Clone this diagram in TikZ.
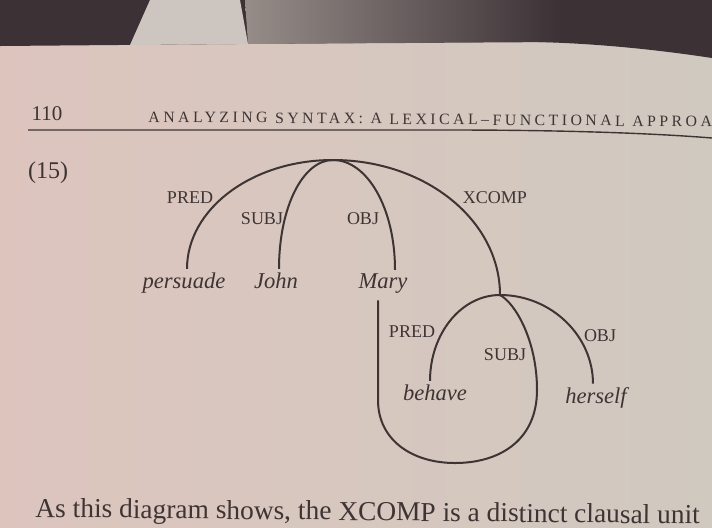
\documentclass[tikz,border=0pt]{standalone}
\usepackage{fontspec}
\setmainfont{Liberation Serif}
\newfontfamily\headfont[LetterSpace=22]{Liberation Serif}
\definecolor{ink}{RGB}{62,52,52}
\definecolor{pageL}{RGB}{221,197,190}
\definecolor{pageR}{RGB}{208,201,192}
\definecolor{shadow}{RGB}{60,50,54}
\definecolor{card}{RGB}{205,198,192}
\definecolor{haze}{RGB}{150,140,136}
\begin{document}
\begin{tikzpicture}[x=0.5pt,y=-0.5pt,
  arc/.style={ink,line width=1pt},
  word/.style={ink,font=\fontsize{11.3}{13}\selectfont\itshape,inner sep=1.5pt,anchor=base},
  fn/.style={ink,font=\fontsize{9}{10}\selectfont,inner sep=0pt,anchor=base}]
\useasboundingbox (0,0) rectangle (712,527);
\clip (0,0) rectangle (712,527);
% page and the dark edge above it
\shade[left color=pageL,right color=pageR] (0,0) rectangle (712,527);
\fill[shadow] (0,0) -- (712,0) -- (712,58) .. controls (620,44) and (540,40) .. (470,42) -- (0,46) -- cycle;
\shade[left color=haze,right color=shadow] (245,0) -- (560,0) -- (560,42) -- (248,44) -- cycle;
\fill[card] (150,0) -- (240,0) -- (248,44) -- (130,45) -- cycle;
% running head
\node[ink,font=\fontsize{10.5}{12}\selectfont,inner sep=0pt,anchor=base] (page) at (47,120) {110};
\node[ink,font=\fontsize{7.9}{9}\headfont,inner sep=0pt,anchor=base west,rotate=-0.5] (head) at (148,122) {ANALYZING SYNTAX: A LEXICAL\textendash FUNCTIONAL APPROA};
\draw[ink,line width=0.7pt] (28,130) -- (450,130) .. controls (560,130) and (650,133) .. (712,138);
\node[ink,font=\fontsize{12}{14}\selectfont,inner sep=0pt,anchor=base] (ex) at (48,178) {(15)};
% f-structure
\coordinate (f) at (333,160);
\coordinate (g) at (500,295);
\node[word] (persuade) at (184,288) {persuade};
\node[word] (John) at (276,288) {John};
\node[word] (Mary) at (383,288) {Mary};
\node[word] (behave) at (435,400) {behave};
\node[word] (herself) at (596,403) {herself};
\draw[arc] (f) .. controls +(-81,0) and +(0,-60) .. ([xshift=1.5pt]persuade.north);
\draw[arc] (f) .. controls +(-30,0) and +(0,-62) .. ([xshift=1.5pt]John.north);
\draw[arc] (f) .. controls +(34,0) and +(0,-62) .. ([xshift=6pt]Mary.north);
\draw[arc] (f) .. controls +(92,0) and +(0,-75) .. (g);
\draw[arc] (g) .. controls +(-39,0) and +(0,-47) .. ([xshift=-2.5pt]behave.north);
\draw[arc] (g) .. controls +(51,0) and +(0,-48) .. ([xshift=-1.5pt]herself.north);
\draw[arc] (g) .. controls (515,303) and (537,340) .. (537,390) .. controls (537,440) and (500,463) .. (455,463) .. controls (412,463) and (378,440) .. (378,400) -- ([xshift=-2.5pt,yshift=-2pt]Mary.south);
\node[fn] (predA) at (190,203) {PRED};
\node[fn] (subjA) at (262,224) {SUBJ};
\node[fn] (objA) at (363,224) {OBJ};
\node[fn] (xcomp) at (495,203) {XCOMP};
\node[fn] (predB) at (412,337) {PRED};
\node[fn] (subjB) at (505,360) {SUBJ};
\node[fn] (objB) at (600,341) {OBJ};
% text below
\node[ink,font=\fontsize{13.7}{16}\selectfont,inner sep=0pt,anchor=base west,rotate=-0.6] (body) at (35,517) {As this diagram shows, the XCOMP is a distinct clausal unit};
\end{tikzpicture}
\end{document}
